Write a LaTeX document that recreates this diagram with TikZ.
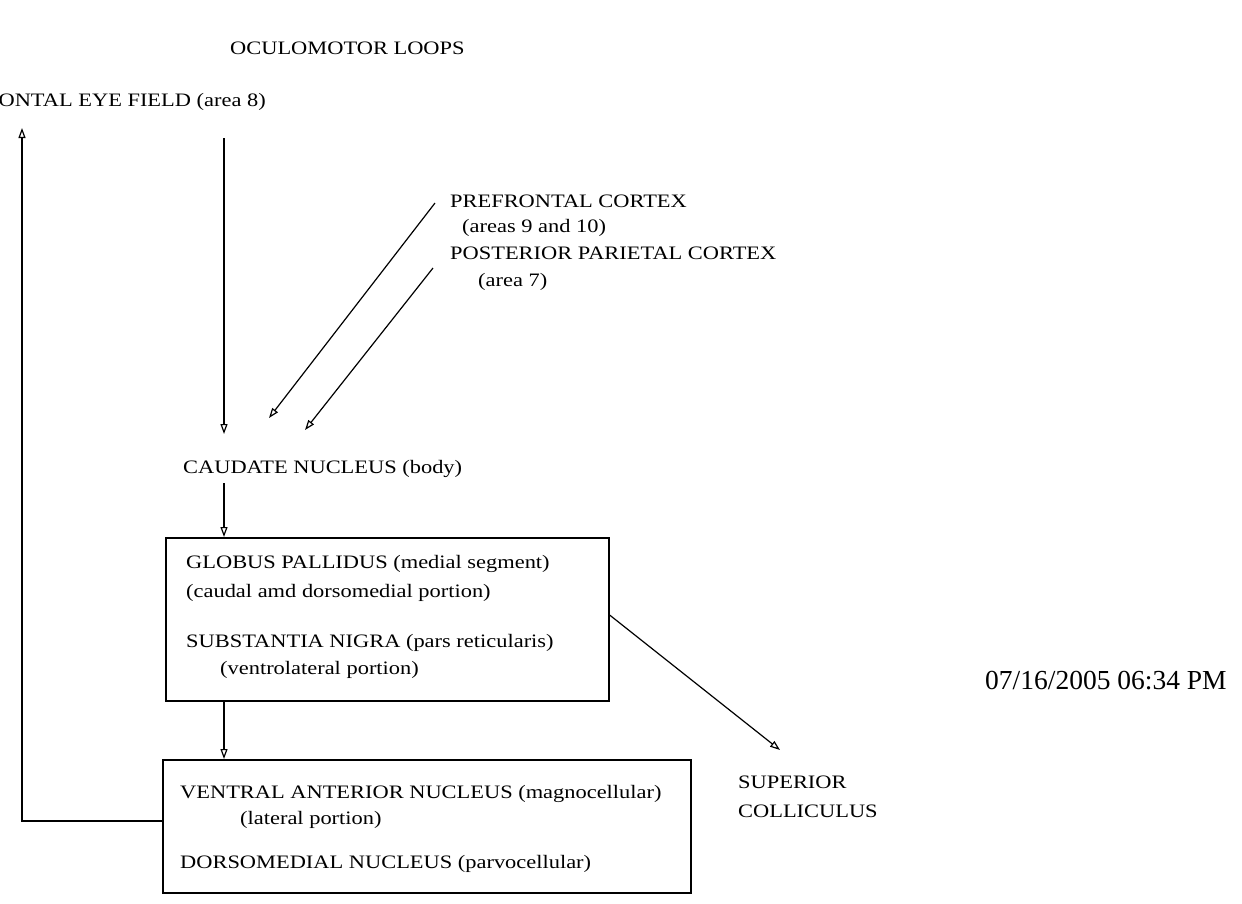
\documentclass[tikz,border=0pt]{standalone}
\usepackage{fontspec}
\setmainfont{Liberation Serif}
\newfontfamily\lblfont{Liberation Serif}[FakeStretch=1.18]
\usetikzlibrary{arrows.meta}
\begin{document}
\begin{tikzpicture}[x=1pt,y=-1pt,
  lbl/.style={anchor=base west,inner sep=0pt,font=\lblfont\fontsize{19}{22}\selectfont},
  boxnode/.style={draw,line width=1.6pt,anchor=north west,inner sep=0pt},
  conn/.style={line width=1.2pt,-{Triangle[open,length=10pt,width=7pt]}}]
\useasboundingbox (0,0) rectangle (1242,903);
% title
\node[lbl] (title) at (230,54) {OCULOMOTOR LOOPS};
\node[lbl] (fef) at (-29,106) {FRONTAL EYE FIELD (area 8)};
% prefrontal
\node[lbl] (pfc) at (450,207) {PREFRONTAL CORTEX};
\node[lbl] (pfca) at (462,232) {(areas 9 and 10)};
\node[lbl] (ppc) at (450,259) {POSTERIOR PARIETAL CORTEX};
\node[lbl] (ppca) at (478,286) {(area 7)};
% caudate
\node[lbl] (caud) at (183,473) {CAUDATE NUCLEUS (body)};
% GP box
\node[boxnode,minimum width=443pt,minimum height=163pt] (gp) at (165,537) {};
\node[lbl] (gp1) at (186,568) {GLOBUS PALLIDUS (medial segment)};
\node[lbl] (gp2) at (186,597) {(caudal amd dorsomedial portion)};
\node[lbl] (sn1) at (186,647) {SUBSTANTIA NIGRA (pars reticularis)};
\node[lbl] (sn2) at (220,674) {(ventrolateral portion)};
% VA box
\node[boxnode,minimum width=528pt,minimum height=133pt] (va) at (162,759) {};
\node[lbl] (va1) at (180,798) {VENTRAL ANTERIOR NUCLEUS (magnocellular)};
\node[lbl] (va2) at (240,824) {(lateral portion)};
\node[lbl] (dm) at (180,868) {DORSOMEDIAL NUCLEUS (parvocellular)};
% superior colliculus
\node[lbl] (sc1) at (738,788) {SUPERIOR};
\node[lbl] (sc2) at (738,817) {COLLICULUS};
% date
\node[anchor=base west,inner sep=0pt,font=\fontsize{27.5}{32}\selectfont] (date) at (985,689) {07/16/2005 06:34 PM};
% coordinates
\coordinate (fefout) at (224,138);
\coordinate (caudin) at (224,434);
\coordinate (caudout) at (224,483);
\coordinate (pfcout) at (435,203);
\coordinate (pfcin) at (269,418);
\coordinate (ppcout) at (433,268);
\coordinate (ppcin) at (305,430);
\coordinate (scin) at (780,750);
\coordinate (leftcorner) at (22,821);
\coordinate (fefin) at (22,128);
% connectors
\draw[conn] (fefout) -- (caudin);
\draw[conn] (pfcout) -- (pfcin);
\draw[conn] (ppcout) -- (ppcin);
\draw[conn] (caudout) -- (gp.north -| caudout);
\draw[conn] (gp.south -| caudout) -- (va.north -| caudout);
\draw[conn] (gp.east |- 0,615) -- (scin);
\draw[conn] (va.west |- leftcorner) -- (leftcorner) -- (fefin);
\end{tikzpicture}
\end{document}
